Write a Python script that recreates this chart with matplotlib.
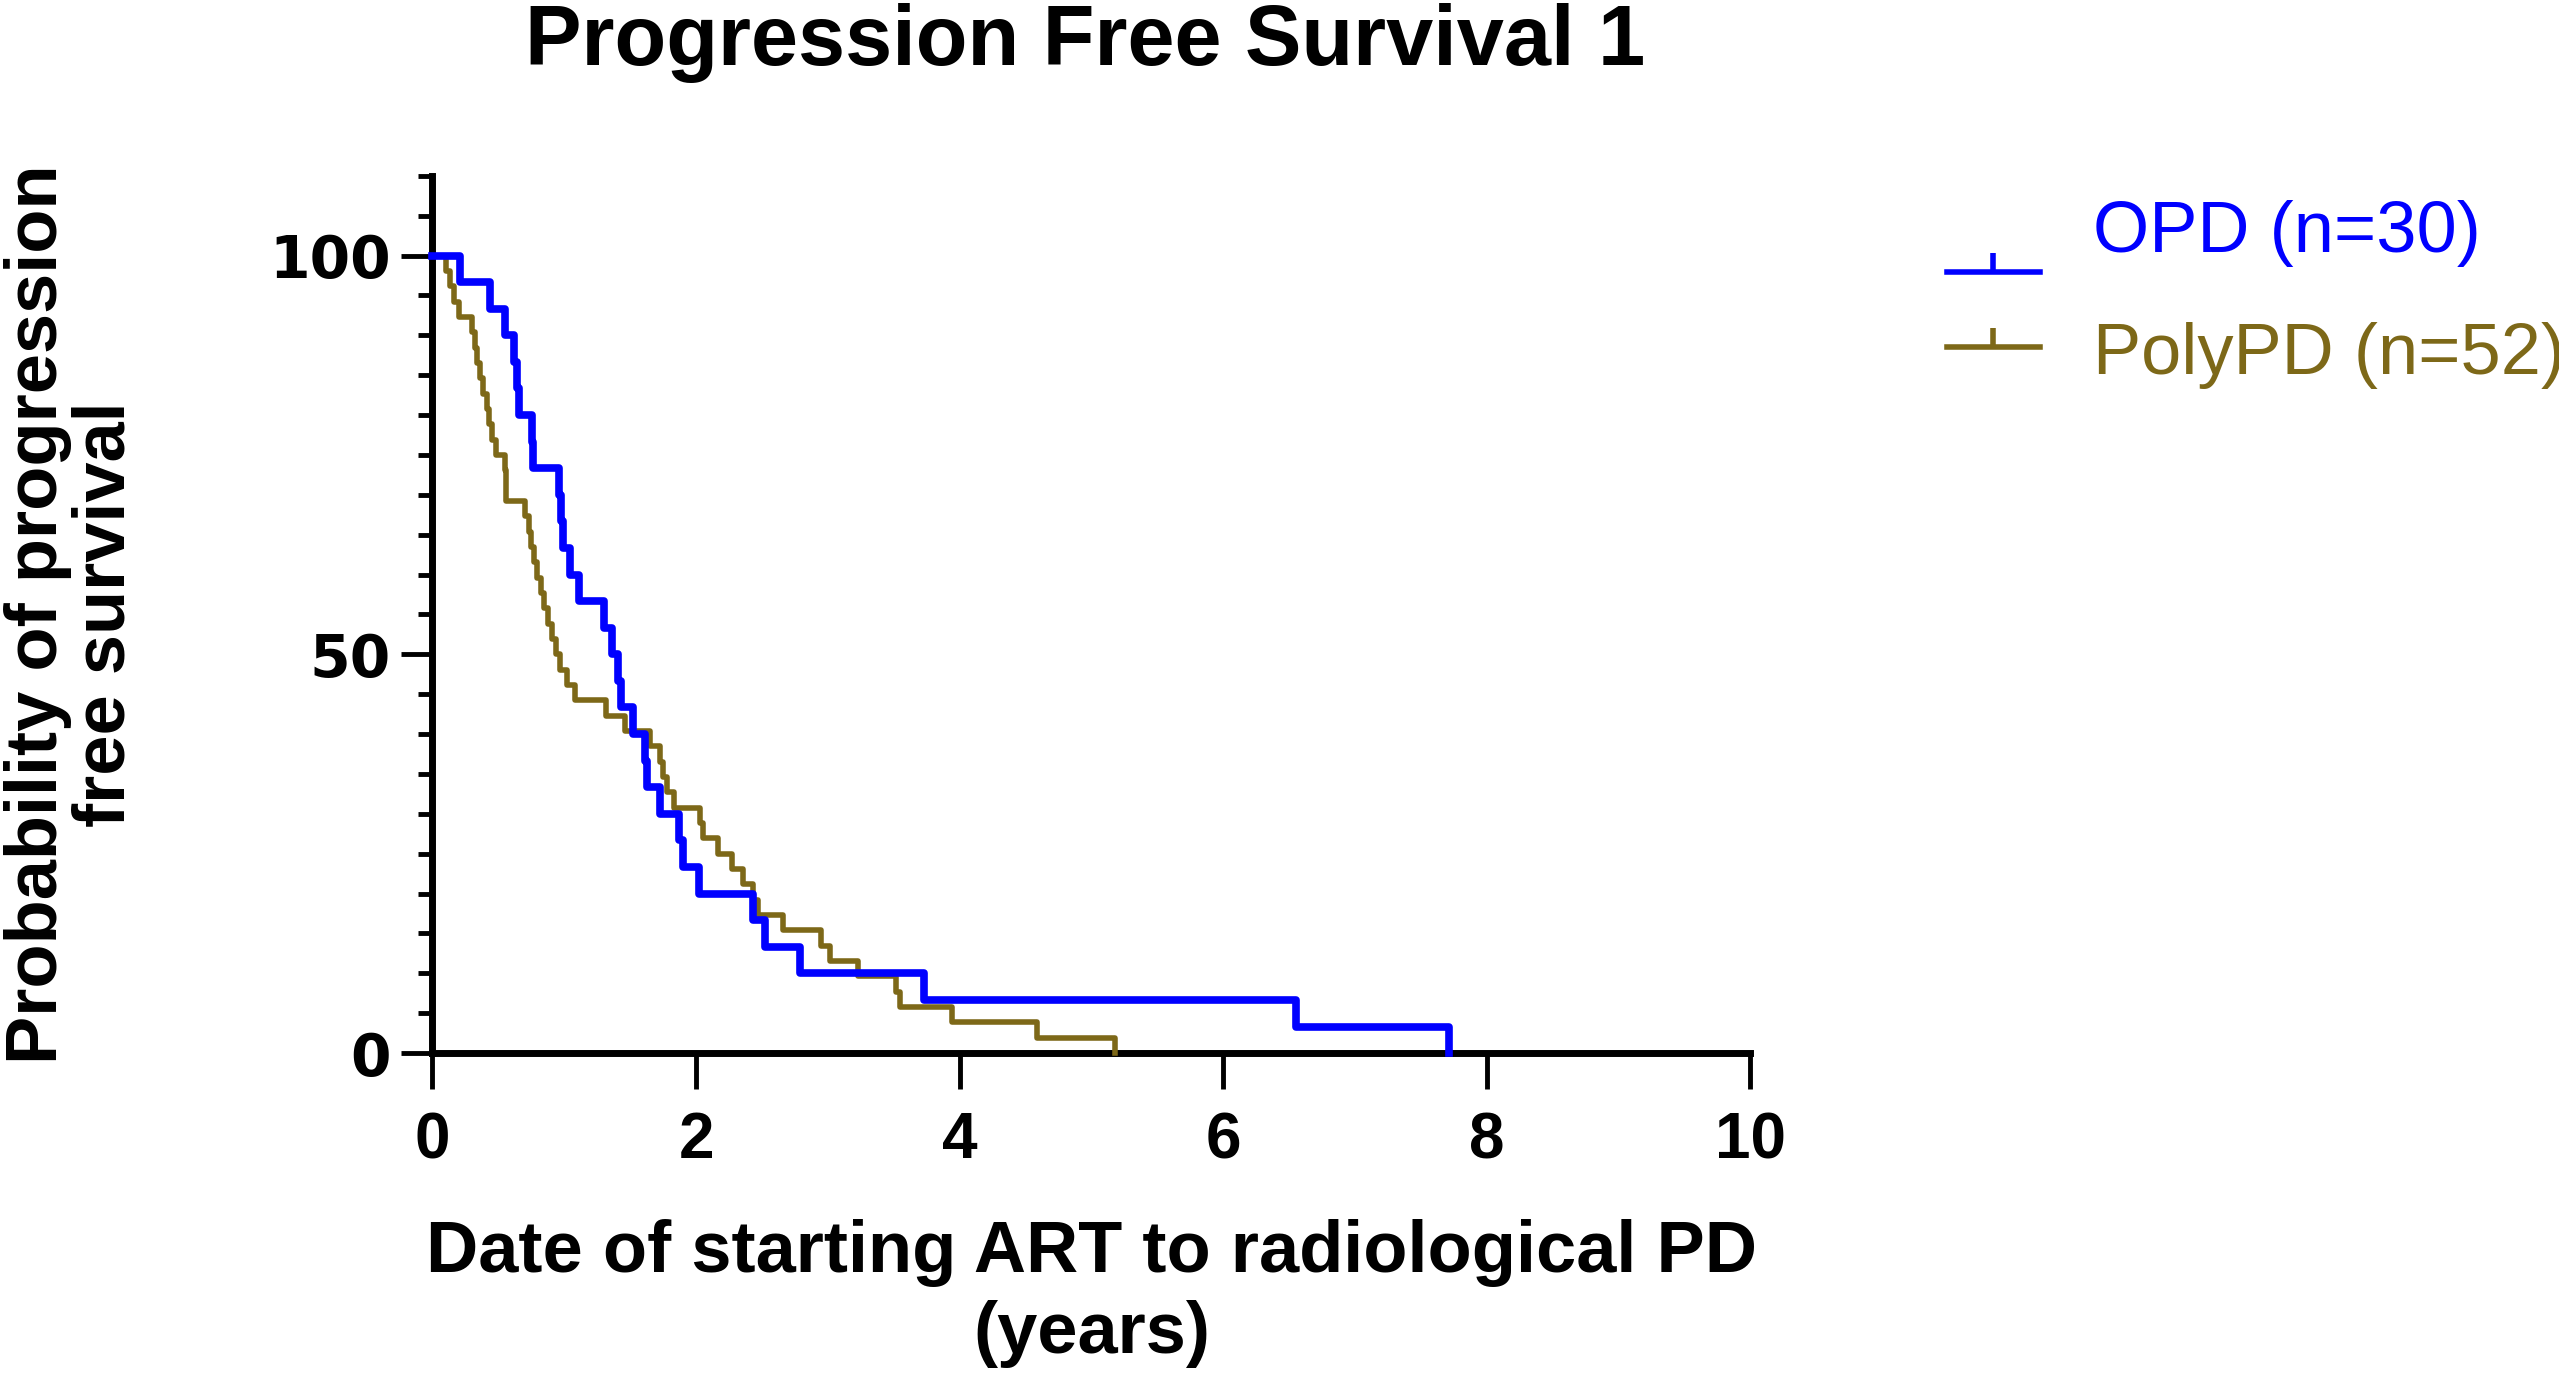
import matplotlib
matplotlib.use("Agg")
import matplotlib.pyplot as plt
from matplotlib.lines import Line2D
from matplotlib.ticker import MultipleLocator

# Kaplan-Meier steps (years, % progression free)
opd_times = [0, 0.21, 0.44, 0.55, 0.62, 0.64, 0.66, 0.755, 0.76, 0.96, 0.975, 0.99,
             1.045, 1.11, 1.30, 1.36, 1.41, 1.43, 1.525, 1.61, 1.63, 1.73, 1.87,
             1.90, 2.02, 2.43, 2.52, 2.79, 3.73, 6.55, 7.71]
opd_surv = [100, 96.67, 93.33, 90.0, 86.67, 83.33, 80.0, 76.67, 73.33, 70.0, 66.67,
            63.33, 60.0, 56.67, 53.33, 50.0, 46.67, 43.33, 40.0, 36.67, 33.33, 30.0,
            26.67, 23.33, 20.0, 16.67, 13.33, 10.0, 6.67, 3.33, 0.0]

poly_times = [0, 0.10, 0.13, 0.16, 0.20, 0.30, 0.32, 0.34, 0.36, 0.385, 0.41, 0.43,
              0.455, 0.48, 0.55, 0.555, 0.56, 0.70, 0.73, 0.75, 0.77, 0.79, 0.82,
              0.85, 0.88, 0.91, 0.94, 0.97, 1.02, 1.08, 1.32, 1.46, 1.65, 1.73, 1.75,
              1.78, 1.83, 2.03, 2.05, 2.17, 2.27, 2.36, 2.43, 2.47, 2.66, 2.95, 3.02,
              3.23, 3.52, 3.55, 3.94, 4.59, 5.18]
poly_surv = [100, 98.08, 96.15, 94.23, 92.31, 90.38, 88.46, 86.54, 84.62, 82.69,
             80.77, 78.85, 76.92, 75.0, 73.08, 71.15, 69.23, 67.31, 65.38, 63.46,
             61.54, 59.62, 57.69, 55.77, 53.85, 51.92, 50.0, 48.08, 46.15, 44.23,
             42.31, 40.38, 38.46, 36.54, 34.62, 32.69, 30.77, 28.85, 26.92, 25.0,
             23.08, 21.15, 19.23, 17.31, 15.38, 13.46, 11.54, 9.62, 7.69, 5.77,
             3.85, 1.92, 0.0]

group_labels = ["OPD (n=30)", "PolyPD (n=52)"]
blue = "#0000ff"
olive = "#7d6818"

plt.rcParams["font.family"] = ["Liberation Sans", "DejaVu Sans"]

fig = plt.figure(figsize=(25.59, 13.73), dpi=100)
ax = fig.add_axes([0.169, 0.233, 0.515, 0.639])

ax.step(poly_times, poly_surv, where="post", color=olive, lw=4, clip_on=False, zorder=3)
ax.step(opd_times, opd_surv, where="post", color=blue, lw=5.5, clip_on=False, zorder=4)

ax.set_xlim(0, 10)
ax.set_ylim(0, 110)
ax.set_xticks([0, 2, 4, 6, 8, 10])
ax.set_yticks([0, 50, 100])
ax.yaxis.set_minor_locator(MultipleLocator(5))

for side in ["top", "right"]:
    ax.spines[side].set_visible(False)
for side in ["left", "bottom"]:
    ax.spines[side].set_linewidth(5)

ax.tick_params(axis="x", which="major", length=26, width=3.5, pad=16)
ax.tick_params(axis="y", which="major", length=22, width=3.5, pad=8)
ax.tick_params(axis="y", which="minor", length=10, width=3.5)
for lab in ax.get_xticklabels():
    lab.set_fontsize(46)
    lab.set_fontweight("bold")
for lab in ax.get_yticklabels():
    lab.set_fontsize(42)
    lab.set_fontweight("bold")
    lab.set_family("DejaVu Sans")

ax.set_xlabel("Date of starting ART to radiological PD\n(years)", fontsize=52,
              fontweight="bold", labelpad=34, linespacing=1.25)
fig.text(0.028, 0.553, "Probability of progression\nfree survival", rotation=90,
         fontsize=52, fontweight="bold", ha="center", va="center", linespacing=1.0)

fig.text(0.424, 0.953, "Progression Free Survival 1", fontsize=61, fontweight="bold",
         ha="center", va="baseline")

# legend drawn by hand to match the layout
for label, col, ty, ly in [(group_labels[0], blue, 0.830, 0.802),
                           (group_labels[1], olive, 0.741, 0.747)]:
    fig.add_artist(Line2D([0.761, 0.797], [ly, ly], color=col, lw=4,
                          transform=fig.transFigure))
    fig.add_artist(Line2D([0.779], [ly], color=col, marker=2, markersize=14,
                          markeredgewidth=4, transform=fig.transFigure))
    fig.text(0.818, ty, label, color=col, fontsize=52, ha="left", va="center")

fig.savefig("out.png", dpi=100)
